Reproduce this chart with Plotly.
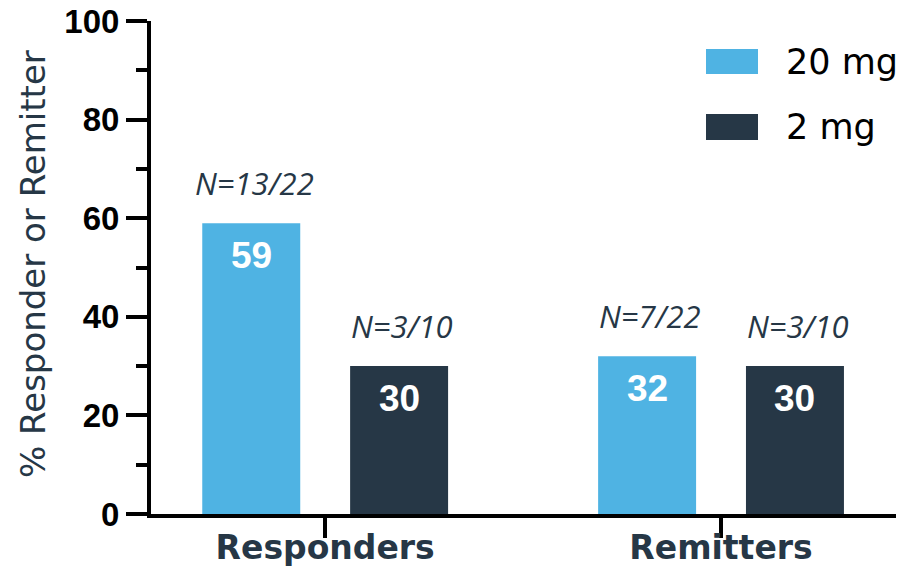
import plotly.graph_objects as go

# ---- data ----
categories = ["Responders", "Remitters"]
series_names = ["20 mg", "2 mg"]
values_20mg = [59, 32]
values_2mg = [30, 30]
n_labels_20mg = ["N=13/22", "N=7/22"]
n_labels_2mg = ["N=3/10", "N=3/10"]
y_ticks = [0, 20, 40, 60, 80, 100]
y_title = "% Responder or Remitter"

# ---- style ----
W, H = 906, 566
# plot area in page pixels: x 151..896, y 21..514
L, R, T, B = 151, W - 896, 21, H - 514
BLUE = "#4FB3E3"
NAVY = "#263746"
BAR_W = 0.2475
BAR_GAP = 0.126
offsets = [-(BAR_W + BAR_GAP) / 2, (BAR_W + BAR_GAP) / 2]
colors = [BLUE, NAVY]
series_vals = [values_20mg, values_2mg]
series_n = [n_labels_20mg, n_labels_2mg]

fig = go.Figure()
for name, vals, col, off in zip(series_names, series_vals, colors, offsets):
    fig.add_trace(go.Bar(
        x=list(range(len(categories))), y=vals, name=name,
        marker=dict(color=col, line=dict(width=0)),
        width=BAR_W, offset=off - BAR_W / 2,
        showlegend=False, hoverinfo="skip",
    ))

annotations = []
for vals, nl, off in zip(series_vals, series_n, offsets):
    for i, (v, lab) in enumerate(zip(vals, nl)):
        annotations.append(dict(
            x=i + off, y=v, xref="x", yref="y", text=str(v), showarrow=False,
            yanchor="middle", yshift=-32,
            font=dict(family="Liberation Sans, Arial", size=37, color="white", weight="bold"),
        ))
        annotations.append(dict(
            x=i + off, y=v, xref="x", yref="y", text=lab, showarrow=False,
            yanchor="middle", yshift=40, xshift=3,
            font=dict(family="Open Sans", size=31, color=NAVY, style="italic"),
        ))

# legend and axis title placed in page pixels
pw, ph = W - L - R, H - T - B
def px_x(p):
    return (p - L) / pw
def px_y(p):
    return (H - B - p) / ph

shapes = []
legend_rows = [(49, 74), (114, 140)]
for (y0, y1), col, name in zip(legend_rows, colors, series_names):
    shapes.append(dict(type="rect", xref="paper", yref="paper",
                       x0=px_x(706), x1=px_x(758), y0=px_y(y1), y1=px_y(y0),
                       fillcolor=col, line=dict(width=0)))
    annotations.append(dict(xref="paper", yref="paper", x=px_x(784), y=px_y((y0 + y1) / 2),
                            text=name, showarrow=False, xanchor="left", yanchor="middle",
                            font=dict(family="DejaVu Sans", size=35, color="black")))

annotations.append(dict(xref="paper", yref="paper", x=px_x(33), y=px_y(264),
                        text=y_title, textangle=-90, showarrow=False,
                        xanchor="center", yanchor="middle",
                        font=dict(family="DejaVu Sans", size=34, color=NAVY)))

fig.update_layout(
    width=W, height=H,
    margin=dict(l=L, r=R, t=T, b=B, pad=0),
    paper_bgcolor="white", plot_bgcolor="white",
    barmode="overlay",
    shapes=shapes, annotations=annotations,
    xaxis=dict(
        range=[-0.44, 1.442], tickmode="array", automargin=False,
        tickvals=list(range(len(categories))), ticktext=categories,
        showline=True, linewidth=4, linecolor="black",
        ticks="outside", ticklen=20, tickwidth=4, tickcolor="black",
        ticklabelstandoff=-19, ticklabeloverflow="allow",
        showgrid=False, zeroline=False,
        tickfont=dict(family="DejaVu Sans", size=33, color=NAVY, weight="bold"),
    ),
    yaxis=dict(
        range=[0, 100], tickvals=y_ticks, automargin=False,
        showline=True, linewidth=4, linecolor="black",
        ticks="outside", ticklen=21, tickwidth=4, tickcolor="black",
        ticklabeloverflow="allow",
        minor=dict(dtick=10, ticks="outside", ticklen=11, tickwidth=4, tickcolor="black", showgrid=False),
        showgrid=False, zeroline=False,
        tickfont=dict(family="Liberation Sans, Arial", size=33, color="black", weight="bold"),
    ),
)

# remove the page's default 8px body margin so the figure fills the window
fig.write_html("out.html", config={"displayModeBar": False},
               post_script="document.body.style.margin='0px';")
